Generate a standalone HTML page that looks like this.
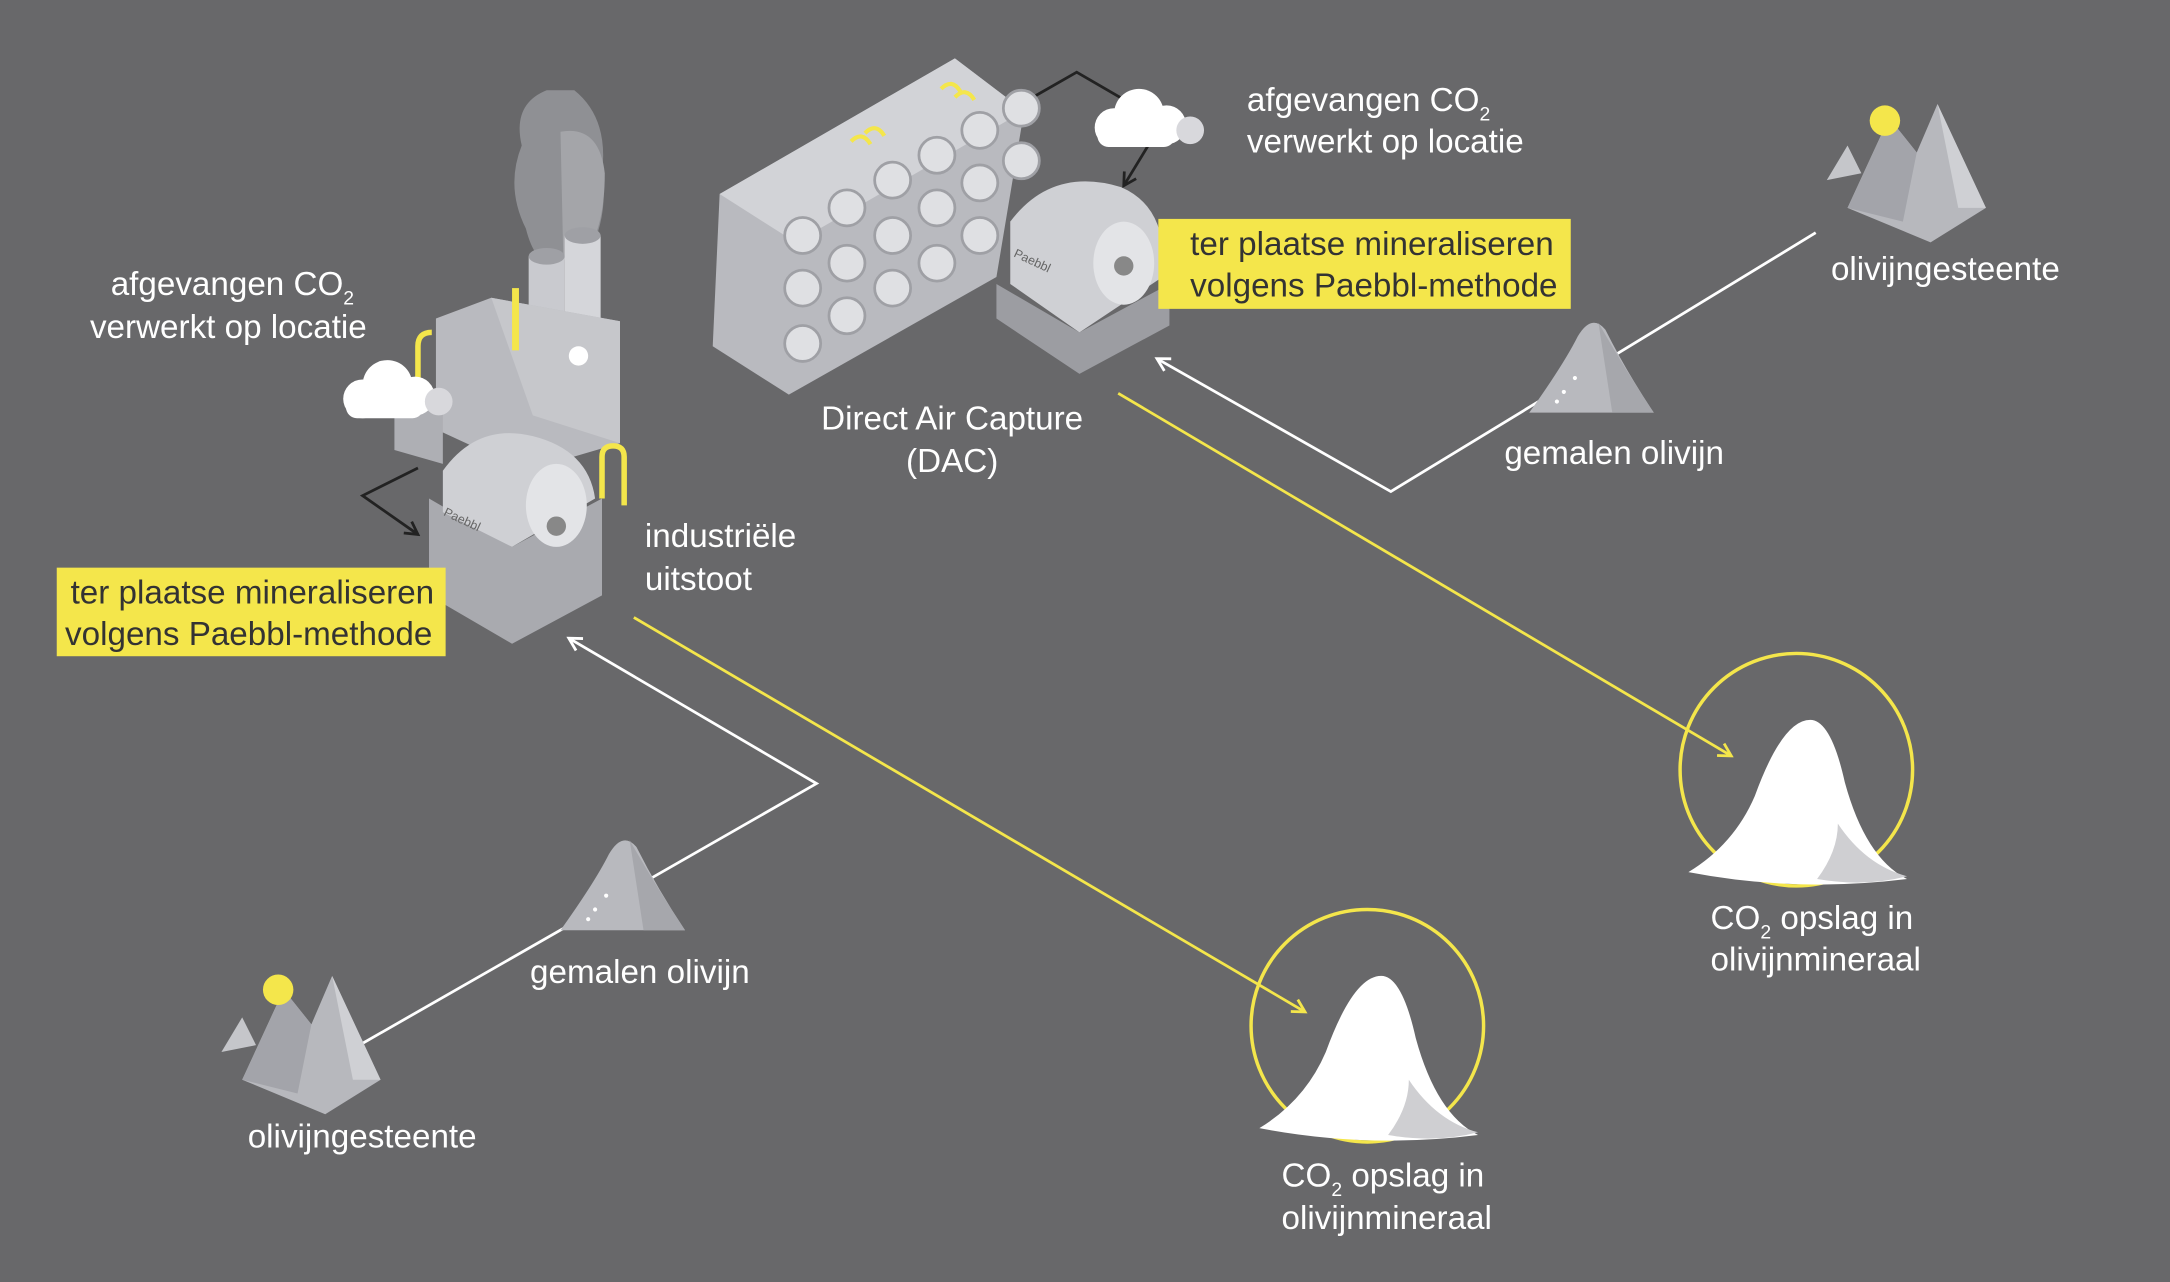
<!DOCTYPE html>
<html><head><meta charset="utf-8"><style>
html,body{margin:0;padding:0;background:#68686a;}
svg{display:block}
text{font-family:"Liberation Sans",sans-serif;font-size:24px;fill:#fff}
</style></head><body>
<svg width="2170" height="1282" viewBox="0 0 1568 926" xmlns="http://www.w3.org/2000/svg">
<rect width="1568" height="926" fill="#68686a"/>
<defs>
<marker id="aw" markerWidth="12" markerHeight="12" refX="10" refY="6" orient="auto" markerUnits="userSpaceOnUse"><path d="M1,1 L10,6 L1,11" fill="none" stroke="#fff" stroke-width="2"/></marker>
<marker id="ay" markerWidth="12" markerHeight="12" refX="10" refY="6" orient="auto" markerUnits="userSpaceOnUse"><path d="M1,1 L10,6 L1,11" fill="none" stroke="#f4e64b" stroke-width="2"/></marker>
<marker id="ad" markerWidth="12" markerHeight="12" refX="10" refY="6" orient="auto" markerUnits="userSpaceOnUse"><path d="M1,1 L10,6 L1,11" fill="none" stroke="#222" stroke-width="2"/></marker>
<g id="mtn"><path d="M-40,30 L-10,-35 L10,-10 L25,-45 L60,30 L20,55 Z" fill="#b7b8bd"/><path d="M-10,-35 L10,-10 L0,40 L-40,30 Z" fill="#a3a4aa"/><path d="M25,-45 L60,30 L40,30 Z" fill="#cfd0d4"/><path d="M-55,10 L-40,-15 L-30,5 Z" fill="#c5c6ca"/></g>
<g id="pile"><path d="M-45,30 Q-20,-5 -10,-25 Q0,-42 10,-30 Q25,0 45,30 Z" fill="#b8b9be"/><path d="M5,-35 Q25,0 45,30 L15,30 Z" fill="#a6a7ac"/><circle cx="-20" cy="15" r="1.5" fill="#fff"/><circle cx="-12" cy="5" r="1.5" fill="#fff"/><circle cx="-25" cy="22" r="1.5" fill="#fff"/></g>
<g id="wpile"><path d="M-78,55 Q-45,35 -30,0 Q-10,-55 10,-55 Q25,-55 35,-10 Q50,45 80,60 Q0,70 -78,55 Z" fill="#fff"/><path d="M30,20 Q50,50 80,58 Q50,66 15,60 Q30,40 30,20Z" fill="#cfcfd2"/></g>
<g id="cloud"><circle cx="0" cy="0" r="14" fill="#fff"/><circle cx="18" cy="-10" r="18" fill="#fff"/><circle cx="38" cy="-2" r="14" fill="#fff"/><rect x="-12" y="-2" width="56" height="16" rx="8" fill="#fff"/><circle cx="55" cy="2" r="10" fill="#d8d8dc"/></g>
</defs>

<polyline points="1312,168 1005,355 836,259" fill="none" stroke="#fff" stroke-width="2" marker-end="url(#aw)"/>
<polyline points="258,756 590,566 411,461" fill="none" stroke="#fff" stroke-width="2" marker-end="url(#aw)"/>
<line x1="808" y1="284" x2="1251" y2="546" stroke="#f4e64b" stroke-width="2" marker-end="url(#ay)"/>
<line x1="458" y1="446" x2="943" y2="731" stroke="#f4e64b" stroke-width="2" marker-end="url(#ay)"/>
<polyline points="743,72 778,52 840,88 812,134" fill="none" stroke="#222" stroke-width="2" marker-end="url(#ad)"/>
<polyline points="302,338 262,358 302,386" fill="none" stroke="#222" stroke-width="2" marker-end="url(#ad)"/>

<circle cx="1298" cy="556" r="84" fill="none" stroke="#f4e64b" stroke-width="2.5"/>
<use href="#wpile" x="1298" y="575"/>
<circle cx="988" cy="741" r="84" fill="none" stroke="#f4e64b" stroke-width="2.5"/>
<use href="#wpile" x="988" y="760"/>

<use href="#mtn" x="1375" y="120"/><circle cx="1362" cy="87" r="11" fill="#f4e64b"/>
<use href="#mtn" x="215" y="750"/><circle cx="201" cy="715" r="11" fill="#f4e64b"/>
<use href="#pile" x="1150" y="268"/>
<use href="#pile" x="450" y="642"/>

<g>
<path d="M515,250 L570,285 L720,200 L740,80 L690,42 L520,140 Z" fill="#b9babf"/>
<path d="M520,140 L690,42 L740,80 L575,175 Z" fill="#d2d3d7"/>
<g fill="#dfe0e3" stroke="#9fa0a5" stroke-width="2">
<circle cx="580" cy="170" r="13"/><circle cx="612" cy="150" r="13"/><circle cx="645" cy="130" r="13"/><circle cx="677" cy="112" r="13"/><circle cx="708" cy="94" r="13"/><circle cx="738" cy="78" r="13"/>
<circle cx="580" cy="208" r="13"/><circle cx="612" cy="190" r="13"/><circle cx="645" cy="170" r="13"/><circle cx="677" cy="150" r="13"/><circle cx="708" cy="132" r="13"/><circle cx="738" cy="116" r="13"/>
<circle cx="580" cy="248" r="13"/><circle cx="612" cy="228" r="13"/><circle cx="645" cy="208" r="13"/><circle cx="677" cy="190" r="13"/><circle cx="708" cy="170" r="13"/>
</g>
<path d="M720,230 L780,270 L845,235 L845,205 L780,240 L720,205 Z" fill="#9c9da2"/>
<path d="M730,160 Q760,120 810,135 Q845,150 840,200 L780,240 L730,205 Z" fill="#cfd0d4"/>
<ellipse cx="812" cy="190" rx="22" ry="30" fill="#e3e4e7"/><circle cx="812" cy="192" r="7" fill="#888"/>
<text x="732" y="185" style="font-size:9px;fill:#666" transform="rotate(25 732 185)">Paebbl</text>
<path d="M625,96 q8,-8 14,2 M615,102 q8,-8 14,2 M680,64 q8,-8 14,2 M690,70 q8,-8 14,2" stroke="#f4e64b" stroke-width="3" fill="none"/>
</g>
<use href="#cloud" x="805" y="92"/>

<g>
<path d="M395,65 q-25,10 -18,40 q-12,30 3,60 q5,20 15,25 l30,-5 q15,-30 10,-60 q5,-40 -20,-60 z" fill="#8f9094"/>
<path d="M405,95 q28,-5 32,30 q0,40 -15,60 l-15,0 z" fill="#a4a5a9"/>
<rect x="382" y="185" width="26" height="60" fill="#c9cacf"/><ellipse cx="395" cy="185" rx="13" ry="6" fill="#9fa0a5"/>
<rect x="408" y="170" width="26" height="70" fill="#d5d6da"/><ellipse cx="421" cy="170" rx="13" ry="6" fill="#9fa0a5"/>
<path d="M315,230 L355,215 L448,232 L448,320 L380,340 L315,310 Z" fill="#b9babf"/>
<path d="M355,215 L448,232 L448,320 L385,300 Z" fill="#c6c7cb"/>
<path d="M285,300 L320,285 L320,335 L285,325 Z" fill="#aeafb4"/>
<circle cx="418" cy="257" r="7" fill="#fff"/>
<rect x="370" y="208" width="5" height="45" fill="#f4e64b"/>
<path d="M310,360 L370,395 L435,360 L435,430 L370,465 L310,430 Z" fill="#a9aaaf"/>
<path d="M320,340 Q345,305 385,315 Q425,325 430,360 L370,395 L320,370 Z" fill="#cfd0d4"/>
<ellipse cx="402" cy="365" rx="22" ry="30" fill="#e3e4e7"/><circle cx="402" cy="380" r="7" fill="#888"/>
<text x="320" y="372" style="font-size:9px;fill:#666" transform="rotate(25 320 372)">Paebbl</text>
<path d="M435,360 v-30 q0,-8 8,-8 q8,0 8,8 v35" stroke="#f4e64b" stroke-width="4" fill="none"/>
<path d="M302,290 v-40 q0,-10 10,-10" stroke="#f4e64b" stroke-width="4" fill="none"/>
</g>
<use href="#cloud" x="262" y="288"/>

<rect x="837" y="158" width="298" height="65" fill="#f4e64b"/>
<text x="860" y="184" style="fill:#333">ter plaatse mineraliseren</text>
<text x="860" y="214" style="fill:#333">volgens Paebbl-methode</text>
<rect x="41" y="410" width="281" height="64" fill="#f4e64b"/>
<text x="51" y="436" style="fill:#333">ter plaatse mineraliseren</text>
<text x="47" y="466" style="fill:#333">volgens Paebbl-methode</text>

<text x="901" y="80">afgevangen CO<tspan dy="7" style="font-size:14px">2</tspan></text>
<text x="901" y="110">verwerkt op locatie</text>
<text x="80" y="213">afgevangen CO<tspan dy="7" style="font-size:14px">2</tspan></text>
<text x="65" y="244">verwerkt op locatie</text>
<text x="1323" y="202">olivijngesteente</text>
<text x="1087" y="335">gemalen olivijn</text>
<text x="688" y="310" text-anchor="middle">Direct Air Capture</text>
<text x="688" y="341" text-anchor="middle">(DAC)</text>
<text x="466" y="395">industriële</text>
<text x="466" y="426">uitstoot</text>
<text x="383" y="710">gemalen olivijn</text>
<text x="179" y="829">olivijngesteente</text>
<text x="926" y="857">CO<tspan dy="7" style="font-size:14px">2</tspan><tspan dy="-7"> opslag in</tspan></text>
<text x="926" y="888">olivijnmineraal</text>
<text x="1236" y="671">CO<tspan dy="7" style="font-size:14px">2</tspan><tspan dy="-7"> opslag in</tspan></text>
<text x="1236" y="701">olivijnmineraal</text>
</svg>
</body></html>
